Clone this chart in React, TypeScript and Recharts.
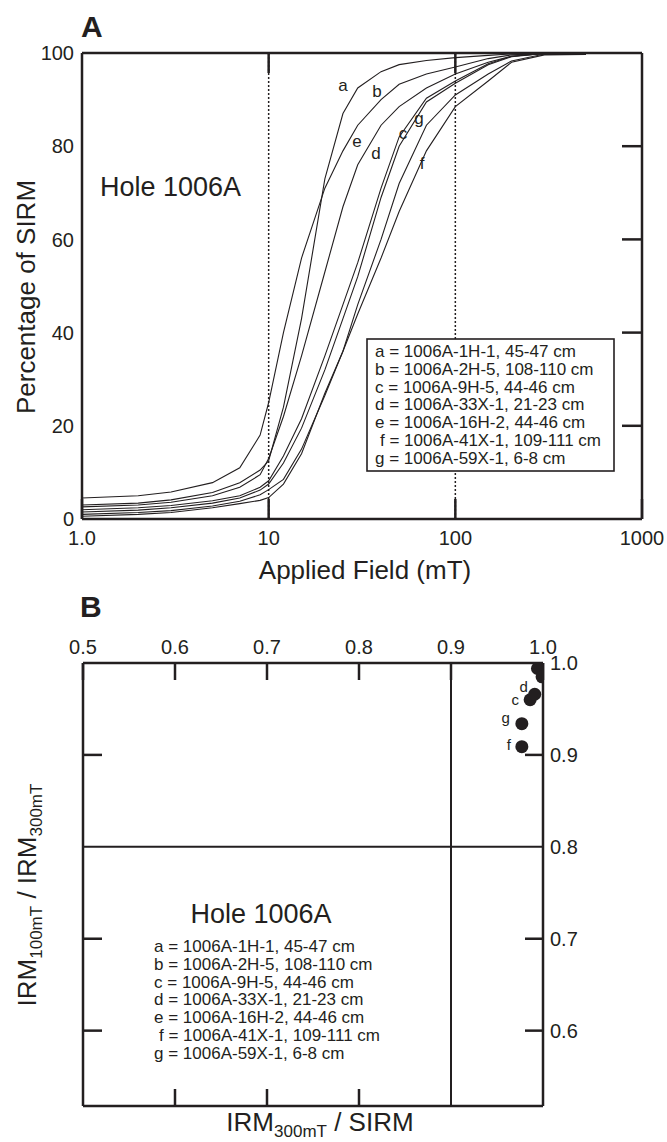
import React from 'react';
import { LineChart, Line, XAxis, YAxis, ReferenceLine, ScatterChart, Scatter } from 'recharts';

const FONT = '"Liberation Sans", Arial, Helvetica, sans-serif';
const INK = '#231f20';

// Panel A: IRM acquisition, applied field (mT) vs percentage of SIRM
const fields = [1, 2, 3, 5, 7, 9, 10, 12, 15, 20, 25, 30, 40, 50, 70, 100, 150, 200, 300, 500];
const curveA = [3.0, 3.4, 4.1, 5.7, 7.8, 10.5, 12.5, 24, 43, 73, 87, 92.5, 96, 97.5, 98.4, 99, 99.5, 99.8, 99.9, 99.8];
const curveB = [4.5, 5.0, 5.8, 7.8, 11, 18, 25, 40, 56, 71, 79, 84.5, 90, 93.3, 95.5, 97, 98.8, 99.6, 99.9, 99.8];
const curveC = [1.5, 1.9, 2.4, 3.4, 4.5, 6.2, 7.5, 12, 19.5, 32, 43, 52, 69, 80, 89.5, 93.5, 97.5, 99.2, 99.9, 99.7];
const curveD = [2.0, 2.4, 2.9, 3.9, 5.0, 6.8, 8.2, 13.5, 21.5, 35, 46, 55, 71, 82, 90.3, 94, 97.7, 99.3, 99.9, 99.7];
const curveE = [2.6, 3.0, 3.6, 5.0, 6.8, 9.5, 13, 22, 35, 53, 67, 76, 84.5, 88.5, 92.5, 95.5, 98, 99.3, 99.9, 99.8];
const curveF = [0.6, 1.0, 1.4, 2.4, 3.3, 4.0, 4.6, 7.5, 14, 27, 36, 44, 56, 66, 79, 88.5, 94, 98, 99.6, 99.7];
const curveG = [1.0, 1.4, 1.8, 2.8, 3.8, 5.2, 6.3, 8.5, 15, 26.5, 36, 46, 60, 72, 84.5, 91, 95.5, 98.3, 99.8, 99.7];

const sampleIds = ['a', 'b', 'c', 'd', 'e', 'f', 'g'];
const sampleNames = [
  '1006A-1H-1, 45-47 cm',
  '1006A-2H-5, 108-110 cm',
  '1006A-9H-5, 44-46 cm',
  '1006A-33X-1, 21-23 cm',
  '1006A-16H-2, 44-46 cm',
  '1006A-41X-1, 109-111 cm',
  '1006A-59X-1, 6-8 cm',
];
const fieldTicks = [1, 10, 100, 1000];
const pctTicks = [0, 20, 40, 60, 80, 100];

// Panel B: IRM300mT/SIRM vs IRM100mT/IRM300mT
const irm300Ratio = [0.996, 0.994, 0.986, 0.991, 0.999, 0.977, 0.977];
const irm100Ratio = [0.997, 0.994, 0.960, 0.966, 0.985, 0.909, 0.934];
const pointTags = ['', '', 'c', 'd', '', 'f', 'g'];
const ratioXTicks = [0.5, 0.6, 0.7, 0.8, 0.9, 1.0];
const ratioYTicks = [0.6, 0.7, 0.8, 0.9, 1.0];

const curves = [curveA, curveB, curveC, curveD, curveE, curveF, curveG];
// field goes under "mT" so it can't clash with sample "f"
const rowsA = fields.map((mT, i) => {
  const row: any = { mT };
  sampleIds.forEach((id, k) => (row[id] = curves[k][i]));
  return row;
});
const pointsB = sampleIds.map((id, i) => ({ id, x: irm300Ratio[i], y: irm100Ratio[i], tag: pointTags[i] }));

const frame = { stroke: INK, strokeWidth: 2.5 };
const tickFont = { fill: INK, fontSize: 20, fontFamily: FONT };
const noLabel = () => '';
const nothing = () => <g />;

// x-axis tick that draws its own inward mark (dir: 1 = down, -1 = up) and optional label
const makeXTick = (len: number, dir: number, labelDy: number | null, fmt: (v: number) => string) => (p: any) => (
  <g>
    <line x1={p.x} y1={p.y} x2={p.x} y2={p.y + dir * len} stroke={INK} strokeWidth={2.5} />
    {labelDy !== null && (
      <text x={p.x} y={p.y + labelDy} textAnchor="middle" fontSize={20} fontFamily={FONT} fill={INK}>
        {fmt(p.payload.value)}
      </text>
    )}
  </g>
);
const fieldFmt = (v: number) => (v === 1 ? '1.0' : String(v));
const ratioFmt = (v: number) => v.toFixed(1);

// small nudges for point labels in panel B (relative to the dot)
const tagNudge: Record<string, [number, number]> = {
  c: [-11, 5],
  d: [-7, -2],
  g: [-12, -1],
  f: [-11, 3],
};

const DotWithTag = (props: any) => {
  const { cx, cy, payload } = props;
  const n = tagNudge[payload.tag];
  return (
    <g>
      <circle cx={cx} cy={cy} r={6.5} fill={INK} />
      {n && (
        <text x={cx + n[0]} y={cy + n[1]} textAnchor="end" fontSize={15} fontFamily={FONT} fill={INK}>
          {payload.tag}
        </text>
      )}
    </g>
  );
};

// curve letters in panel A
const curveTags = [
  { t: 'a', x: 343, y: 91 },
  { t: 'b', x: 377, y: 97 },
  { t: 'e', x: 357, y: 147 },
  { t: 'd', x: 376, y: 159 },
  { t: 'c', x: 403, y: 139 },
  { t: 'g', x: 419, y: 124 },
  { t: 'f', x: 422, y: 169 },
];

const Legend = ({ x, y, boxed }: { x: number; y: number; boxed: boolean }) => (
  <g fontFamily={FONT} fontSize={17} fill={INK}>
    {boxed && <rect x={x - 8} y={y - 12} width={247} height={132} fill="white" stroke={INK} strokeWidth={1.6} />}
    {sampleIds.map((id, i) => (
      <text key={id} x={id === 'f' ? x + 5 : x} y={y + 6 + i * 17.8}>
        {id} = {sampleNames[i]}
      </text>
    ))}
  </g>
);

export default function App() {
  return (
    <div style={{ position: 'absolute', left: 0, top: 0, width: 667, height: 1142, background: 'white' }}>
      <div style={{ position: 'absolute', left: 0, top: 0 }}>
        <LineChart width={667} height={600} data={rowsA} margin={{ top: 43, right: 25, bottom: 51, left: 22 }}>
          <XAxis
            xAxisId="lab"
            dataKey="mT"
            type="number"
            scale="log"
            domain={[1, 1000]}
            allowDataOverflow
            ticks={fieldTicks}
            interval={0}
            tickLine={false}
            tickSize={0}
            tickMargin={0}
            height={30}
            axisLine={frame}
            tick={makeXTick(20, -1, 26, fieldFmt)}
          />
          <XAxis
            xAxisId="top"
            orientation="top"
            dataKey="mT"
            type="number"
            scale="log"
            domain={[1, 1000]}
            allowDataOverflow
            ticks={[10, 100]}
            interval={0}
            tickLine={false}
            tickSize={0}
            tickMargin={0}
            axisLine={frame}
            height={10}
            tick={makeXTick(20, 1, null, fieldFmt)}
          />
          <YAxis yAxisId="l" type="number" domain={[0, 100]} allowDataOverflow ticks={pctTicks} tickLine={false} tickSize={0} tickMargin={8} width={60} axisLine={frame} tick={tickFont} />
          <YAxis yAxisId="r" orientation="right" type="number" domain={[0, 100]} allowDataOverflow mirror ticks={[20, 40, 60, 80]} tickSize={20} tickFormatter={noLabel} width={20} axisLine={frame} tickLine={frame} />
          <ReferenceLine xAxisId="lab" yAxisId="l" x={10} stroke={INK} strokeWidth={1.5} strokeDasharray="2 2" />
          <ReferenceLine xAxisId="lab" yAxisId="l" x={100} stroke={INK} strokeWidth={1.5} strokeDasharray="2 2" />
          {sampleIds.map((id) => (
            <Line
              key={id}
              xAxisId="lab"
              yAxisId="l"
              dataKey={id}
              type="linear"
              dot={false}
              stroke={INK}
              strokeWidth={1.1}
              isAnimationActive={false}
            />
          ))}
          {/* invisible copy so the top axis has data of its own */}
          <Line xAxisId="top" yAxisId="l" dataKey="a" stroke="none" dot={false} activeDot={false} legendType="none" isAnimationActive={false} />
        </LineChart>
      </div>

      <div style={{ position: 'absolute', left: 0, top: 560 }}>
        <ScatterChart width={667} height={582} margin={{ top: 73, right: 64, bottom: 26, left: 83 }}>
          <XAxis
            xAxisId="top"
            orientation="top"
            dataKey="x"
            type="number"
            domain={[0.5, 1.0]}
            allowDataOverflow
            ticks={ratioXTicks}
            interval={0}
            tickLine={false}
            tickSize={0}
            tickMargin={0}
            height={30}
            axisLine={frame}
            tick={makeXTick(17, 1, -9, ratioFmt)}
          />
          <XAxis
            xAxisId="bot"
            dataKey="x"
            type="number"
            domain={[0.5, 1.0]}
            allowDataOverflow
            ticks={[0.6, 0.7, 0.8]}
            interval={0}
            tickLine={false}
            tickSize={0}
            tickMargin={0}
            axisLine={frame}
            height={10}
            tick={makeXTick(17, -1, null, ratioFmt)}
          />
          <YAxis
            yAxisId="r"
            orientation="right"
            dataKey="y"
            type="number"
            domain={[0.518, 1.0]}
            allowDataOverflow
            ticks={ratioYTicks}
            tickFormatter={ratioFmt}
            tickLine={false}
            tickSize={0}
            tickMargin={7}
            width={60}
            axisLine={frame}
            tick={tickFont}
          />
          <YAxis yAxisId="rIn" orientation="right" type="number" domain={[0.518, 1.0]} allowDataOverflow mirror ticks={[0.6, 0.7, 0.9]} tickSize={18} tickFormatter={noLabel} width={20} axisLine={false} tickLine={frame} />
          <YAxis yAxisId="l" type="number" domain={[0.518, 1.0]} allowDataOverflow mirror ticks={[0.6, 0.7, 0.9]} tickSize={19} tickFormatter={noLabel} width={20} axisLine={frame} tickLine={frame} />
          <ReferenceLine xAxisId="top" yAxisId="r" x={0.9} stroke={INK} strokeWidth={2} />
          <ReferenceLine xAxisId="top" yAxisId="r" y={0.8} stroke={INK} strokeWidth={2} />
          <Scatter xAxisId="top" yAxisId="r" data={pointsB} shape={DotWithTag} isAnimationActive={false} />
          {/* invisible copy so the bottom axis has data of its own */}
          <Scatter xAxisId="bot" yAxisId="r" data={pointsB} shape={nothing} legendType="none" isAnimationActive={false} />
        </ScatterChart>
      </div>

      <svg width={667} height={1142} style={{ position: 'absolute', left: 0, top: 0, pointerEvents: 'none' }}>
        <g fontFamily={FONT} fill={INK}>
          {/* panel A */}
          <text x={81} y={37} fontSize={30} fontWeight="bold">A</text>
          <text x={100} y={196} fontSize={27}>Hole 1006A</text>
          {curveTags.map((c) => (
            <text key={c.t} x={c.x} y={c.y} fontSize={17} textAnchor="middle">{c.t}</text>
          ))}
          <text x={365} y={579} fontSize={26} textAnchor="middle">Applied Field (mT)</text>
          <text x={0} y={0} fontSize={26} textAnchor="middle" transform="translate(35,297) rotate(-90)">Percentage of SIRM</text>
          <Legend x={375} y={351} boxed />

          {/* panel B */}
          <text x={80} y={617} fontSize={30} fontWeight="bold">B</text>
          <text x={261} y={923} fontSize={27} textAnchor="middle">Hole 1006A</text>
          <Legend x={154} y={946} boxed={false} />
          <text x={320} y={1131} fontSize={26} textAnchor="middle">
            IRM<tspan fontSize={17} dy={6}>300mT</tspan>
            <tspan dy={-6}> / SIRM</tspan>
          </text>
          <text x={0} y={0} fontSize={26} textAnchor="middle" transform="translate(36,895) rotate(-90)">
            IRM<tspan fontSize={17} dy={6}>100mT</tspan>
            <tspan dy={-6}> / IRM</tspan>
            <tspan fontSize={17} dy={6}>300mT</tspan>
          </text>
        </g>
      </svg>
    </div>
  );
}
